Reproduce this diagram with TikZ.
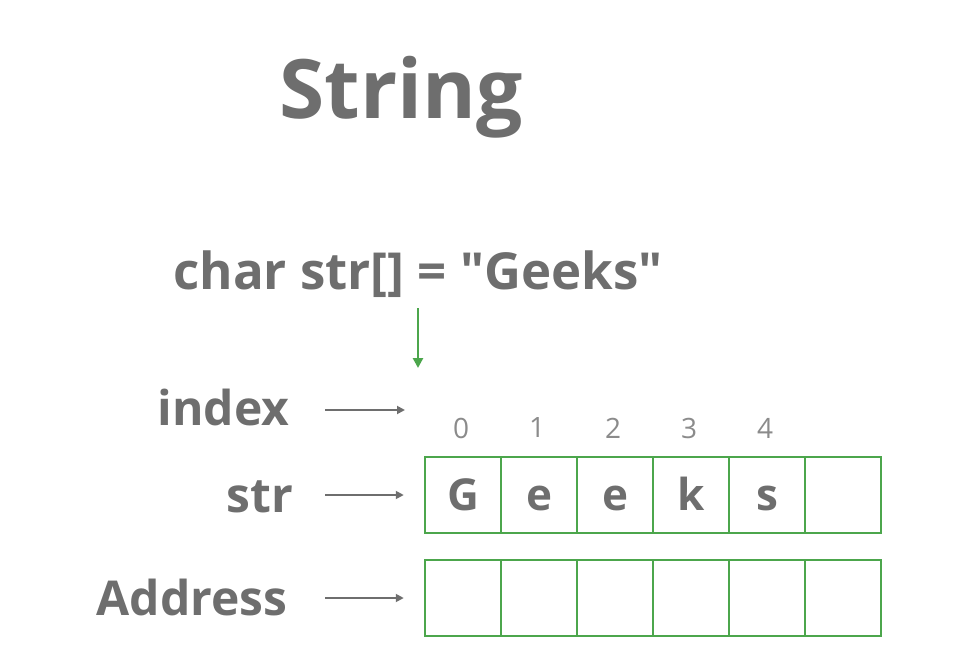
\documentclass[tikz,border=0pt]{standalone}
\usepackage{fontspec}
\setmainfont{Open Sans}[Ligatures=TeXOff]
\usetikzlibrary{arrows.meta,positioning}
\definecolor{txtgray}{HTML}{6E6E6E}
\definecolor{cellgreen}{HTML}{4CA64C}
\tikzset{
  label/.style={font=\bfseries\fontsize{48}{48}\selectfont,text=txtgray,anchor=east},
  cell/.style={draw=cellgreen,line width=2.5pt,minimum width=76pt,minimum height=76pt,inner sep=0pt,
    text height=30pt,text depth=0pt,font=\bfseries\fontsize{44}{44}\selectfont,text=txtgray},
  ptr/.style={-{Triangle[length=8pt,width=8pt]},line width=1.8pt,txtgray,shorten >=20pt}
}
\begin{document}
\begin{tikzpicture}[x=1pt,y=-1pt]
  \useasboundingbox (0,0) rectangle (967,647);
  % Title
  \node[font=\bfseries\fontsize{82}{82}\selectfont,text=txtgray] (title) at (401,97) {String};
  \node[font=\bfseries\fontsize{51}{51}\selectfont,text=txtgray] (decl) at (418,274) {char str[] = "Geeks"};
  \coordinate (top) at (418,368);
  \draw[-{Triangle[length=10pt,width=10pt]},line width=2.5pt,cellgreen] (418,308) -- (top);
  %
  % Cells
  \foreach \i/\ch in {0/G,1/e,2/e,3/k,4/s,5/{}} {
    \node[cell] (c\i) at (463+76*\i,495) {\ch};
    \node[cell] (a\i) at (463+76*\i,598) {};
  }
  \foreach \i in {0,...,4}
    \node[font=\fontsize{28}{28}\selectfont,text=txtgray!80] (n\i) at (461+76*\i,428) {\i};
  %
  % Labels
  \node[label] (index) at (293,407) {index};
  \node[label] (str) at (297,497) {str};
  \node[label] (addr) at (291,597) {Address};
  \coordinate (ix) at (425,410);
  \draw[ptr] (325,410) -- (ix);
  \draw[ptr] (325,495) -- (c0.west);
  \draw[ptr] (325,598) -- (a0.west);
\end{tikzpicture}
\end{document}
